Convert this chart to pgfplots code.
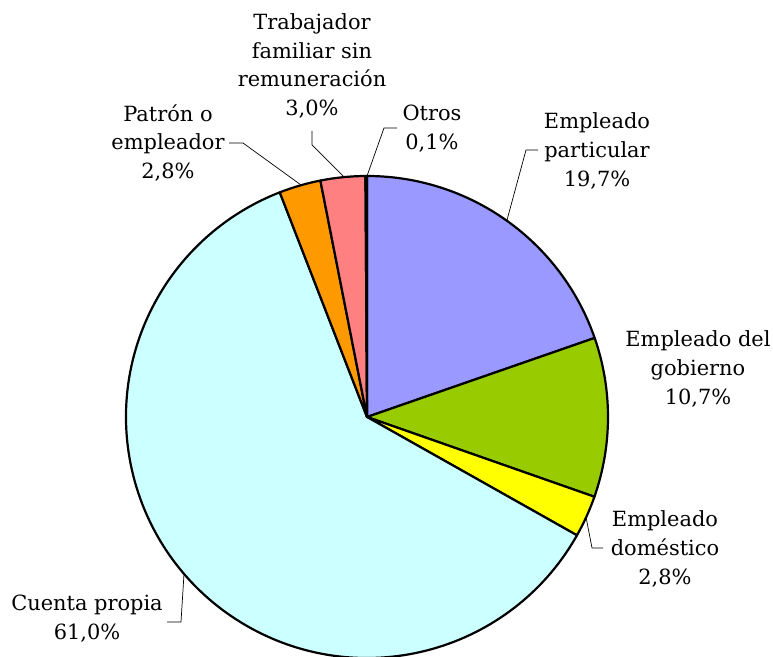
\documentclass[border=0pt]{standalone}
\usepackage{pgfplots}
\pgfplotsset{compat=1.18}
\usepackage{pgfplotstable}
\usepackage{fontspec}
\setmainfont{DejaVu Serif}
\definecolor{pcol0}{HTML}{9999FF}
\definecolor{pcol1}{HTML}{99CC00}
\definecolor{pcol2}{HTML}{FFFF00}
\definecolor{pcol3}{HTML}{CCFFFF}
\definecolor{pcol4}{HTML}{FF9900}
\definecolor{pcol5}{HTML}{FF8080}
\definecolor{pcol6}{HTML}{CCCCFF}
\pgfplotstableread{
slice value
Particular 19.7
Gobierno 10.7
Domestico 2.8
CuentaPropia 61.0
Patron 2.8
Trabajador 3.0
Otros 0.1
}\piedata
\begin{document}
\begin{tikzpicture}
% cumulative angles from the table values
\def\total{0}
\pgfplotsforeachungrouped \i in {0,...,6}{%
  \pgfplotstablegetelem{\i}{value}\of\piedata
  \pgfmathsetmacro\total{\total+\pgfplotsretval}%
  \expandafter\xdef\csname val\i\endcsname{\pgfplotsretval}%
}
\def\cum{0}
\pgfplotsforeachungrouped \i in {0,...,6}{%
  \pgfmathsetmacro\sa{90-360*(\cum/\total)}%
  \edef\cur{\csname val\i\endcsname}%
  \pgfmathsetmacro\cum{\cum+\cur}%
  \pgfmathsetmacro\ea{90-360*(\cum/\total)}%
  \expandafter\xdef\csname sa\i\endcsname{\sa}%
  \expandafter\xdef\csname ea\i\endcsname{\ea}%
}
\begin{axis}[
  name=pie,
  scale only axis, width=773bp, height=657bp,
  xmin=0, xmax=773, ymin=0, ymax=657,
  hide axis, clip=true,
]
\pgfplotsforeachungrouped \i in {0,...,6}{%
  \edef\temp{\noexpand\filldraw[fill=pcol\i, draw=black, line width=2.2bp, line join=round]
    (axis cs:367,240) -- ++(\csname sa\i\endcsname:241bp)
    arc[start angle=\csname sa\i\endcsname, end angle=\csname ea\i\endcsname, radius=241bp] -- cycle;}%
  \temp
}
% leader lines
\begin{scope}[line width=0.7bp, black]
\draw (axis cs:507,437) -- (axis cs:526,507) -- (axis cs:538,507);
\draw (axis cs:301,472) -- (axis cs:243,514) -- (axis cs:229,514);
\draw (axis cs:344,480) -- (axis cs:312,512) -- (axis cs:312,526);
\draw (axis cs:367,481) -- (axis cs:384,529) -- (axis cs:397,529);
\draw (axis cs:586,140) -- (axis cs:592,109) -- (axis cs:603,109);
\draw (axis cs:184,83) -- (axis cs:181,35) -- (axis cs:167,35);
\end{scope}
% labels
\tikzset{lab/.style={align=center, inner sep=0pt, font=\fontsize{21}{29}\selectfont}}
\node[lab] at (axis cs:312,591) {Trabajador\\familiar sin\\remuneración\\3,0\%};
\node[lab] at (axis cs:432,528) {Otros\\0,1\%};
\node[lab] at (axis cs:168,514) {Patrón o\\empleador\\2,8\%};
\node[lab] at (axis cs:597,506) {Empleado\\particular\\19,7\%};
\node[lab] at (axis cs:698,288) {Empleado del\\gobierno\\10,7\%};
\node[lab] at (axis cs:665,108) {Empleado\\doméstico\\2,8\%};
\node[lab] at (axis cs:87,38) {Cuenta propia\\61,0\%};
\end{axis}
\pgfresetboundingbox
\path[use as bounding box] (pie.south west) rectangle (pie.north east);
\end{tikzpicture}
\end{document}
